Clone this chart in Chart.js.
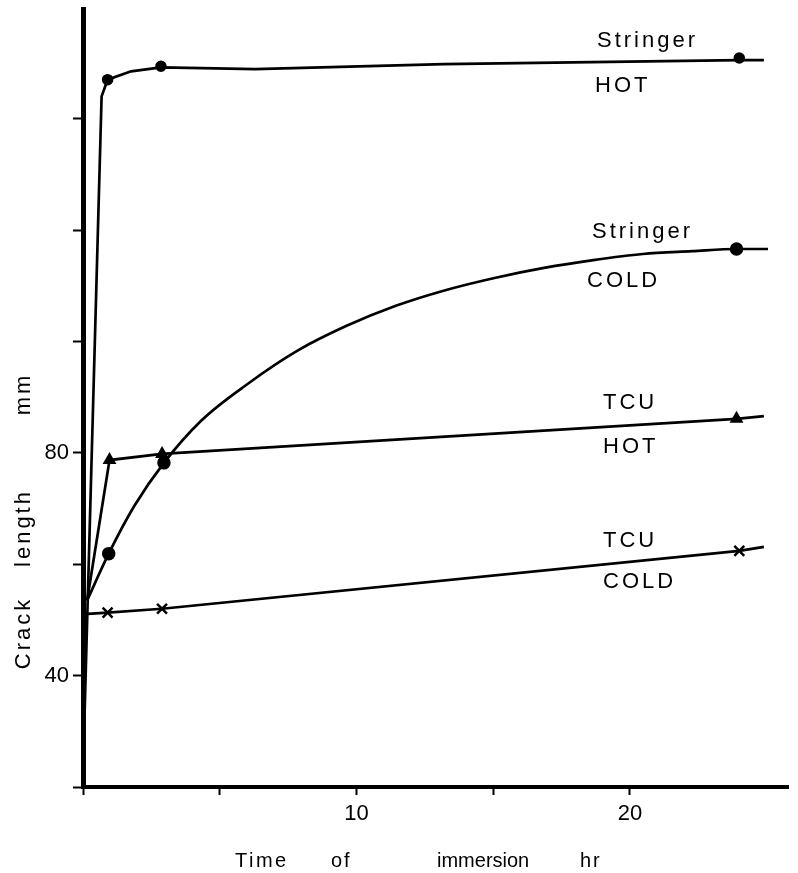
<!DOCTYPE html>
<html>
<head>
<meta charset="utf-8">
<script src="https://cdn.jsdelivr.net/npm/chart.js@4.4.1/dist/chart.umd.min.js"></script>
<style>
  html, body { margin: 0; padding: 0; background: #fff; }
  canvas { display: block; }
</style>
</head>
<body>
<canvas id="crack_canvas" width="798" height="873"></canvas>
<script>
//DATA - time of immersion (hr) and crack length (mm)

//Stringer HOT
var stringerHotT = [0.9, 2.85, 24.0];
var stringerHotLen = [147.0, 149.4, 150.9];
var stringerHotCurveT = [0.04, 0.68, 0.9, 1.76, 2.85, 6.3, 13.2, 24.0, 24.9];
var stringerHotCurveLen = [30.0, 144.0, 147.0, 148.5, 149.2, 148.9, 149.8, 150.5, 150.5];

//Stringer COLD
var stringerColdT = [0.94, 2.96, 23.9];
var stringerColdLen = [61.9, 78.2, 116.6];
var stringerColdCurveT = [0.15, 0.94, 1.88, 2.96, 4.33, 6.03, 7.83, 9.64, 11.44, 13.25, 15.05, 16.86, 18.66, 20.47, 22.27, 23.9, 25.05];
var stringerColdCurveLen = [53.5, 61.9, 70.5, 78.2, 85.8, 92.4, 98.3, 102.8, 106.4, 109.2, 111.4, 113.2, 114.6, 115.7, 116.2, 116.6, 116.6];

//TCU HOT
var tcuHotT = [0.97, 2.89, 23.9];
var tcuHotLen = [78.7, 79.8, 86.1];
var tcuHotCurveT = [0.15, 0.97, 2.89, 23.9, 24.9];
var tcuHotCurveLen = [53.5, 78.7, 79.8, 86.1, 86.6];

//TCU COLD
var tcuColdT = [0.9, 2.89, 24.0];
var tcuColdLen = [51.3, 52.0, 62.4];
var tcuColdCurveT = [0.18, 0.9, 2.89, 24.0, 24.9];
var tcuColdCurveLen = [51.1, 51.3, 52.0, 62.4, 63.1];

//axis ticks
var xLabelled = [10, 20];
var yLabelled = [40, 80];
var xStep = 5, yStep = 20;

function toXY(xs, ys) {
    var out = [];
    for (var i = 0; i < xs.length; i++)
        out.push({ x: xs[i], y: ys[i] });
    return out;
}

function curve(xs, ys, smooth) {
    return {
        data: toXY(xs, ys),
        showLine: true,
        borderColor: "#000",
        borderWidth: 2.7,
        pointRadius: 0,
        tension: smooth ? 0.4 : 0,
        cubicInterpolationMode: smooth ? "monotone" : "default"
    };
}

function marks(xs, ys, style, radius) {
    return {
        data: toXY(xs, ys),
        showLine: false,
        pointStyle: style,
        pointRadius: radius,
        pointBackgroundColor: "#000",
        pointBorderColor: "#000",
        pointBorderWidth: 2.5
    };
}

var FONT = '"Liberation Sans", Arial, sans-serif';

//text drawn on top: curve labels and axis titles
var textPlugin = {
    id: "textPlugin",
    afterDraw: function(chart) {
        var ctx = chart.ctx;
        ctx.save();
        ctx.fillStyle = "#000";
        ctx.font = "22px " + FONT;
        ctx.letterSpacing = "3px";
        ctx.textBaseline = "middle";
        ctx.textAlign = "left";
        var labels = [
            ["Stringer", 597, 41], ["HOT", 595, 86],
            ["Stringer", 592, 232], ["COLD", 587, 281],
            ["TCU", 603, 403], ["HOT", 603, 447],
            ["TCU", 603, 541], ["COLD", 603, 582]
        ];
        for (var i = 0; i < labels.length; i++)
            ctx.fillText(labels[i][0], labels[i][1], labels[i][2]);

        //x title, word by word (spacing as in the scan)
        ctx.font = "20px " + FONT;
        var xWords = [["Time", 235, 2.5], ["of", 331, 2], ["immersion", 437, 0], ["hr", 580, 2]];
        for (var i = 0; i < xWords.length; i++) {
            ctx.letterSpacing = xWords[i][2] + "px";
            ctx.fillText(xWords[i][0], xWords[i][1], 861);
        }

        //y title (rotated)
        ctx.font = "22px " + FONT;
        ctx.letterSpacing = "3px";
        var yWords = [["Crack", 633], ["length", 528], ["mm", 394]];
        ctx.textAlign = "center";
        for (var i = 0; i < yWords.length; i++) {
            ctx.save();
            ctx.translate(24, yWords[i][1]);
            ctx.rotate(-Math.PI / 2);
            ctx.fillText(yWords[i][0], 0, 0);
            ctx.restore();
        }
        ctx.restore();
    }
};

var ctx = document.getElementById("crack_canvas").getContext("2d");
var crackChart = new Chart(ctx, {
    type: "scatter",
    data: {
        datasets: [
            curve(stringerHotCurveT, stringerHotCurveLen, false),
            curve(stringerColdCurveT, stringerColdCurveLen, true),
            curve(tcuHotCurveT, tcuHotCurveLen, false),
            curve(tcuColdCurveT, tcuColdCurveLen, false),
            marks(stringerHotT, stringerHotLen, "circle", 4.5),
            marks(stringerColdT, stringerColdLen, "circle", 5.5),
            marks(tcuHotT, tcuHotLen, "triangle", 5.5),
            marks(tcuColdT, tcuColdLen, "crossRot", 7)
        ]
    },
    options: {
        responsive: false,
        animation: false,
        devicePixelRatio: 1,
        layout: { padding: { top: 8, right: 0, left: 0, bottom: 0 } },
        plugins: { legend: { display: false }, tooltip: { enabled: false } },
        scales: {
            x: {
                type: "linear",
                min: 0,
                max: 25.8,
                afterBuildTicks: function(scale) {
                    scale.ticks = scale.ticks.filter(function(t) { return t.value % xStep === 0; });
                },
                afterFit: function(scale) {
                    scale.height = 86;
                    scale.paddingLeft = 0;
                    scale.paddingRight = 0;
                },
                ticks: {
                    stepSize: xStep,
                    autoSkip: false,
                    maxRotation: 0,
                    color: "#000",
                    padding: 6,
                    font: { family: FONT, size: 22 },
                    callback: function(v) { return xLabelled.indexOf(v) >= 0 ? v : ""; }
                },
                grid: { drawOnChartArea: false, tickLength: 8, tickWidth: 2, color: "#000" },
                border: { display: true, width: 4, color: "#000" }
            },
            y: {
                type: "linear",
                min: 20,
                max: 159.6,
                afterBuildTicks: function(scale) {
                    scale.ticks = scale.ticks.filter(function(t) { return t.value % yStep === 0; });
                },
                afterFit: function(scale) {
                    scale.width = 83;
                    scale.paddingTop = 0;
                    scale.paddingBottom = 0;
                },
                ticks: {
                    stepSize: yStep,
                    autoSkip: false,
                    color: "#000",
                    padding: 4,
                    font: { family: FONT, size: 22 },
                    callback: function(v) { return yLabelled.indexOf(v) >= 0 ? v : ""; }
                },
                grid: { drawOnChartArea: false, tickLength: 10, tickWidth: 2, color: "#000" },
                border: { display: true, width: 5, color: "#000" }
            }
        }
    },
    plugins: [textPlugin]
});
</script>
</body>
</html>
